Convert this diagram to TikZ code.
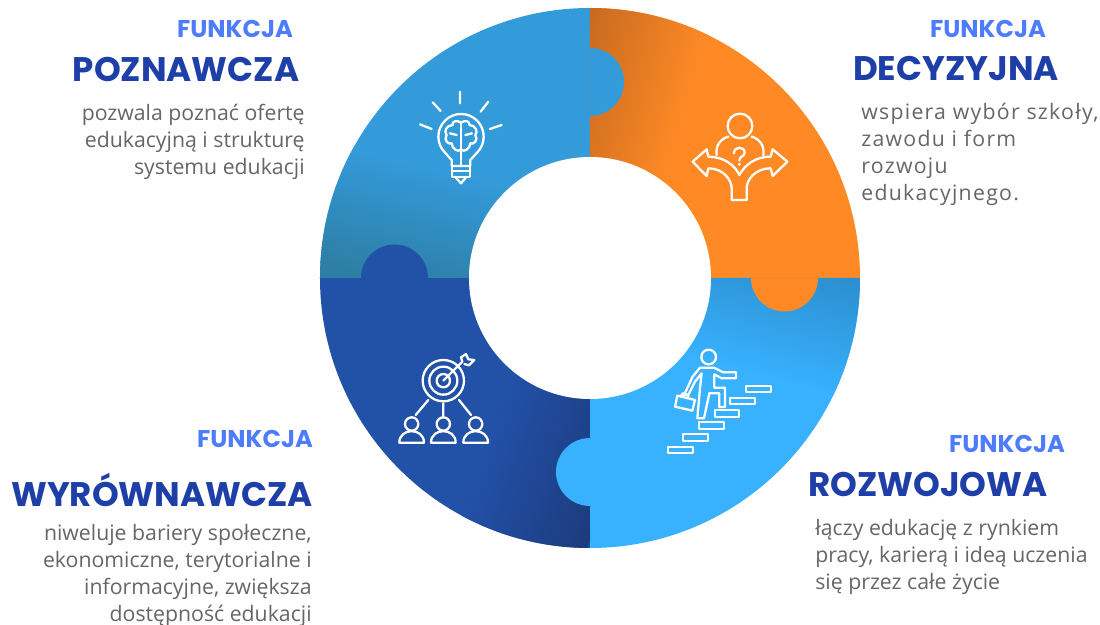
\documentclass[tikz,border=0pt]{standalone}
\usepackage{fontspec}
\setmainfont{Open Sans}
\newfontfamily\headfont{Poppins}
\definecolor{funcblue}{HTML}{4D7CFE}
\definecolor{headblue}{HTML}{1E3FA8}
\definecolor{bodygray}{HTML}{666666}
\definecolor{ringsky}{HTML}{349BDB}
\definecolor{ringteal}{HTML}{2D7FA6}
\definecolor{ringorange}{HTML}{FF8A25}
\definecolor{ringbrown}{HTML}{C76A1F}
\definecolor{ringlight}{HTML}{38B1FF}
\definecolor{ringmid}{HTML}{2B8CCB}
\definecolor{ringnavy}{HTML}{2251A8}
\definecolor{ringdark}{HTML}{1C3B7C}
\tikzset{
  funclabel/.style={font=\headfont\bfseries\fontsize{13.8}{15}\selectfont, text=funcblue, inner sep=0pt},
  headlabel/.style={font=\headfont\bfseries\fontsize{19.4}{22}\selectfont, text=headblue, inner sep=0pt},
  bodylabel/.style={font=\fontsize{12.1}{15.4}\selectfont, text=bodygray, inner sep=0pt},
  iconline/.style={draw=white, line width=1.3pt, line cap=round, line join=round},
  iconarea/.style={shift={#1}, x=0.00667cm, y=-0.00667cm},
}
\begin{document}
\begin{tikzpicture}[x=0.02cm,y=0.02cm]
  \useasboundingbox (-590,278) rectangle (510,-347);
  % quarters of the ring
  \begin{scope}
    \clip (0,0) -- (0,270) arc[start angle=90,end angle=180,radius=270] -- cycle;
    \fill[ringsky] (-280,280) rectangle (0,0);
    \begin{scope}[transform canvas={rotate=-13}]
      \shade[top color=ringsky, bottom color=ringteal] (-400,75) rectangle (100,-45);
      \fill[ringteal] (-400,-44) rectangle (100,-200);
    \end{scope}
  \end{scope}
  \begin{scope}
    \clip (0,0) -- (0,270) arc[start angle=90,end angle=0,radius=270] -- cycle;
    \fill[ringorange] (0,0) rectangle (280,280);
    \begin{scope}[transform canvas={rotate=-16}]
      \shade[left color=ringbrown, right color=ringorange] (-75,-100) rectangle (48,400);
    \end{scope}
  \end{scope}
  \begin{scope}
    \clip (0,0) -- (270,0) arc[start angle=0,end angle=-90,radius=270] -- cycle;
    \fill[ringlight] (0,-280) rectangle (280,0);
    \begin{scope}[transform canvas={rotate=-15}]
      \shade[top color=ringmid, bottom color=ringlight] (-100,75) rectangle (400,-50);
    \end{scope}
  \end{scope}
  \begin{scope}
    \clip (0,0) -- (-270,0) arc[start angle=180,end angle=270,radius=270] -- cycle;
    \fill[ringnavy] (-280,0) rectangle (0,-280);
    \begin{scope}[transform canvas={rotate=-20}]
      \shade[left color=ringnavy, right color=ringdark] (-40,-400) rectangle (90,100);
    \end{scope}
  \end{scope}
  % puzzle tabs
  \fill[ringsky] (0,230) arc[start angle=90,end angle=-90,radius=34] -- cycle;
  \fill[ringlight] (0,-160) arc[start angle=90,end angle=270,radius=34] -- cycle;
  \fill[ringnavy] (-229,0) arc[start angle=180,end angle=0,radius=33.5] -- cycle;
  \fill[ringorange] (228,0) arc[start angle=0,end angle=-180,radius=33.5] -- cycle;
  \fill[white] (0,0) circle[radius=121];

  % bulb icon
  \begin{scope}[iconarea={(-190,198)}]
    \draw[iconline] (180,35) -- (180,70) (98,67) -- (122,93) (265,65) -- (242,95)
      (60,133) -- (95,147) (305,135) -- (270,147);
    \draw[iconline] (155,258) -- (155,240) -- (135,218)
      arc[start angle=135,end angle=405,radius=68]
      -- (211,240) -- (211,258) -- cycle;
    \draw[iconline] (155,258) -- (155,290) -- (211,290) -- (211,258) (155,274) -- (211,274);
    \draw[iconline] (165,290) -- (183,310) -- (200,290);
    \draw[iconline] (183,125) -- (183,258);
    \draw[iconline] (183,128) .. controls (170,118) and (155,125) .. (158,135)
      .. controls (140,135) and (130,155) .. (140,165) .. controls (130,180) and (145,195) .. (155,190)
      .. controls (155,205) and (175,220) .. (183,208);
    \draw[iconline] (183,128) .. controls (196,118) and (211,125) .. (208,135)
      .. controls (226,135) and (236,155) .. (226,165) .. controls (236,180) and (221,195) .. (211,190)
      .. controls (211,205) and (191,220) .. (183,208);
    \draw[iconline] (150,160) -- (170,165) (216,160) -- (196,165);
  \end{scope}

  % crossroads icon
  \begin{scope}[iconarea={(90,178)}]
    \draw[iconline] (180,78) circle[radius=37];
    \draw[iconline] (110,165) .. controls (105,135) and (125,115) .. (145,110);
    \draw[iconline] (250,165) .. controls (255,135) and (235,115) .. (215,110);
    \draw[iconline] (162,160) .. controls (162,138) and (194,138) .. (194,158)
      .. controls (194,170) and (178,168) .. (178,182);
    \fill[white] (178,193) circle[radius=4.5];
    \draw[iconline] (80,148) -- (38,185) -- (80,228) -- (85,205)
      .. controls (130,205) and (155,240) .. (155,265) -- (155,300) -- (200,300) -- (200,265)
      .. controls (200,240) and (225,205) .. (272,205) -- (278,228) -- (322,185) -- (278,148) -- (272,170)
      .. controls (225,170) and (195,195) .. (178,225)
      .. controls (165,195) and (130,170) .. (85,170) -- cycle;
  \end{scope}

  % target icon
  \begin{scope}[iconarea={(-205,-72)}]
    \draw[iconline] (175,92) circle[radius=62];
    \draw[iconline] (175,92) circle[radius=42];
    \draw[iconline] (175,92) circle[radius=20];
    \draw[iconline] (175,92) -- (232,35);
    \draw[iconline] (232,35) -- (228,22) -- (243,12) -- (250,28) -- (268,30) -- (252,46) -- (238,42);
    \draw[iconline] (130,150) -- (92,195) (175,160) -- (175,200) (222,150) -- (258,195);
    \foreach \x in {80,175,272} {
      \draw[iconline] (\x,222) circle[radius=20];
      \draw[iconline] (\x-37,278) .. controls (\x-37,232) and (\x+37,232) .. (\x+37,278) -- cycle;
    }
  \end{scope}

  % stairs icon
  \begin{scope}[iconarea={(70,-67)}]
    \draw[iconline] (146,36) circle[radius=22];
    \draw[iconline] (120,68) -- (162,68) -- (190,82) -- (228,82) -- (228,100) -- (185,100) -- (163,88)
      -- (163,128) -- (195,128) -- (195,186) -- (178,186) -- (178,145) -- (148,145) -- (132,220) -- (112,220)
      -- (120,130) -- (125,85) -- (105,110) -- (85,150) -- (72,150) -- (98,95) -- cycle;
    \draw[iconline] (52,152) -- (105,165) -- (97,197) -- (45,185) -- cycle;
    \draw[iconline] (62,155) -- (68,145) -- (85,150) -- (84,160);
    \foreach \x/\y in {258/122,210/158,164/195,118/232,70/268,24/305} {
      \draw[iconline] (\x,\y) rectangle ++(74,20);
    }
  \end{scope}

  % left top text
  \node[funclabel] (poz-f) at (-355,249) {FUNKCJA};
  \node[headlabel] (poz-h) at (-404,209) {POZNAWCZA};
  \node[bodylabel, align=right, anchor=north east] (poz-b) at (-285,174) {pozwala poznać ofertę\\edukacyjną i strukturę\\systemu edukacji};
  % right top text
  \node[funclabel] (dec-f) at (398,249) {FUNKCJA};
  \node[headlabel] (dec-h) at (366,209) {DECYZYJNA};
  \node[bodylabel, align=left, anchor=north west, font=\addfontfeatures{LetterSpace=6}\fontsize{12.1}{15.4}\selectfont] (dec-b) at (271,175) {wspiera wybór szkoły,\\zawodu i form\\rozwoju\\edukacyjnego.};
  % right bottom text
  \node[funclabel] (roz-f) at (417,-166) {FUNKCJA};
  \node[headlabel] (roz-h) at (338,-206) {ROZWOJOWA};
  \node[bodylabel, align=left, anchor=north west] (roz-b) at (225,-241) {łączy edukację z rynkiem\\pracy, karierą i ideą uczenia\\się przez całe życie};
  % left bottom text
  \node[funclabel] (wyr-f) at (-335,-161) {FUNKCJA};
  \node[headlabel] (wyr-h) at (-428,-212) {WYRÓWNAWCZA};
  \node[bodylabel, align=right, anchor=north east] (wyr-b) at (-278,-246) {niweluje bariery społeczne,\\ekonomiczne, terytorialne i\\informacyjne, zwiększa\\dostępność edukacji};
\end{tikzpicture}
\end{document}
